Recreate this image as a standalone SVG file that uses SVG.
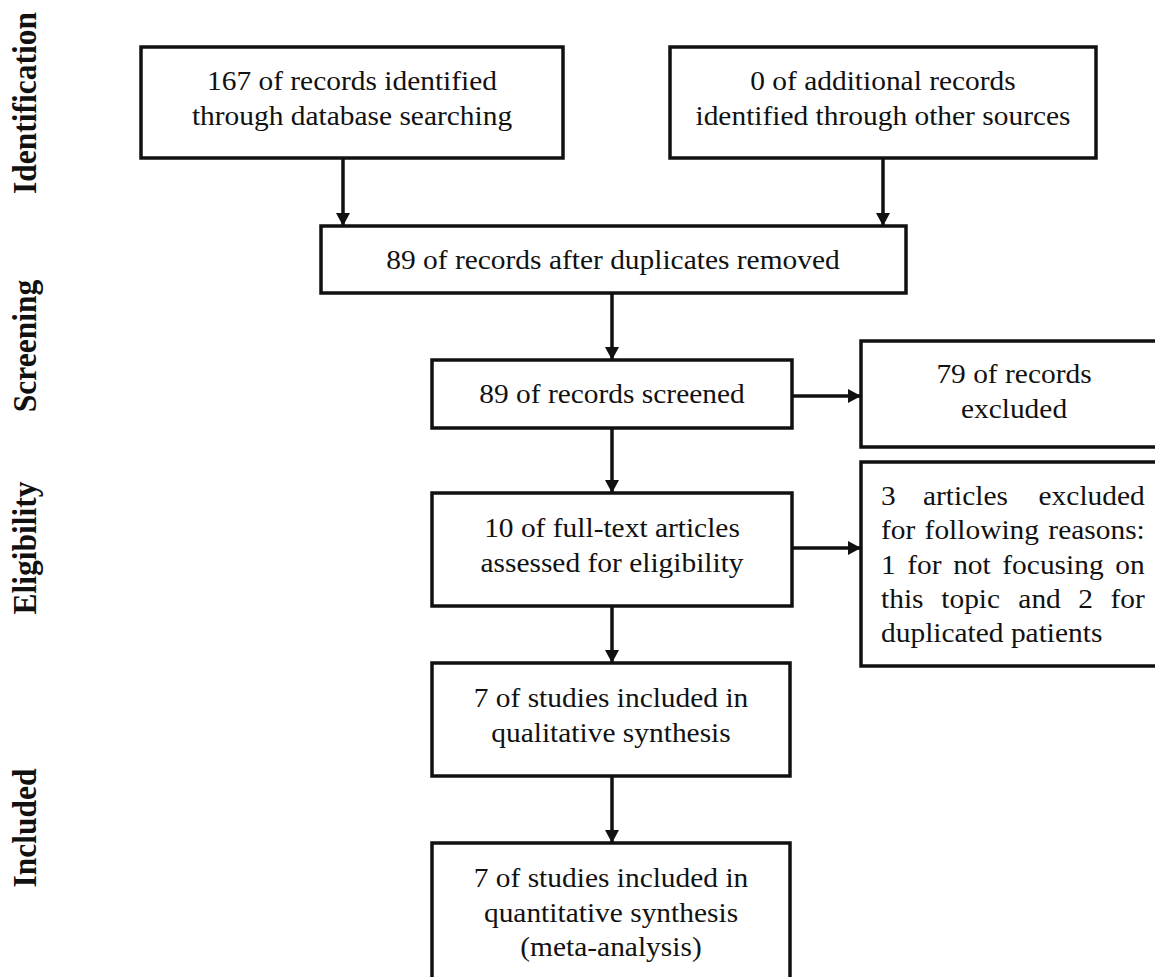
<svg xmlns="http://www.w3.org/2000/svg" width="1155" height="977" viewBox="0 0 1155 977">
<style>
.box{fill:#fff;stroke:#111;stroke-width:3.5}
.t{font-family:"Liberation Serif","Times New Roman",serif;font-size:27px;fill:#111}
.lab{font-family:"Liberation Serif","Times New Roman",serif;font-size:31.5px;font-weight:bold;fill:#111}
.c{stroke:#111;stroke-width:3.5;fill:none;marker-end:url(#ah)}
</style>
<defs>
<marker id="ah" viewBox="0 0 13 14" refX="13" refY="7" markerWidth="13" markerHeight="14" markerUnits="userSpaceOnUse" orient="auto">
<path d="M0,0 L13,7 L0,14 z" fill="#111"/>
</marker>
</defs>
<rect width="1155" height="977" fill="#fff"/>
<g id="labels">
<text class="lab" text-anchor="middle" transform="translate(36,103) scale(1.09,1) rotate(-90)">Identification</text>
<text class="lab" text-anchor="middle" transform="translate(36,346) scale(1.09,1) rotate(-90)">Screening</text>
<text class="lab" text-anchor="middle" transform="translate(36,548) scale(1.09,1) rotate(-90)">Eligibility</text>
<text class="lab" text-anchor="middle" transform="translate(36,828) scale(1.09,1) rotate(-90)">Included</text>
</g>
<g id="connectors">
<line class="c" x1="343" y1="158" x2="343" y2="226"/>
<line class="c" x1="883" y1="158" x2="883" y2="226"/>
<line class="c" x1="612" y1="293" x2="612" y2="360"/>
<line class="c" x1="612" y1="428" x2="612" y2="493"/>
<line class="c" x1="612" y1="606" x2="612" y2="663"/>
<line class="c" x1="612" y1="776" x2="612" y2="843"/>
<line class="c" x1="792" y1="396" x2="861" y2="396"/>
<line class="c" x1="792" y1="548" x2="861" y2="548"/>
</g>
<g id="n-database">
<rect class="box" x="141" y="47" width="422" height="111"/>
<text class="t" text-anchor="middle" transform="translate(352,90) scale(1.09,1)"><tspan x="0">167 of records identified</tspan><tspan x="0" dy="35">through database searching</tspan></text>
</g>
<g id="n-other">
<rect class="box" x="670" y="47" width="426" height="111"/>
<text class="t" text-anchor="middle" transform="translate(883,90) scale(1.09,1)"><tspan x="0">0 of additional records</tspan><tspan x="0" dy="35">identified through other sources</tspan></text>
</g>
<g id="n-dup">
<rect class="box" x="321" y="226" width="585" height="67"/>
<text class="t" text-anchor="middle" transform="translate(613,269) scale(1.09,1)">89 of records after duplicates removed</text>
</g>
<g id="n-screened">
<rect class="box" x="432" y="360" width="360" height="68"/>
<text class="t" text-anchor="middle" transform="translate(612,403) scale(1.09,1)">89 of records screened</text>
</g>
<g id="n-excluded">
<rect class="box" x="861" y="341" width="310" height="106"/>
<text class="t" text-anchor="middle" transform="translate(1014,383) scale(1.09,1)"><tspan x="0">79 of records</tspan><tspan x="0" dy="35">excluded</tspan></text>
</g>
<g id="n-reasons">
<rect class="box" x="861" y="462" width="310" height="204"/>
<text class="t" transform="translate(881,505) scale(1.09,1)"><tspan x="0" y="0">3</tspan><tspan x="38.5" y="0">articles</tspan><tspan x="242" y="0" text-anchor="end">excluded</tspan><tspan x="0" y="34.3">for</tspan><tspan x="40" y="34.3">following</tspan><tspan x="242" y="34.3" text-anchor="end">reasons:</tspan><tspan x="0" y="68.6">1</tspan><tspan x="24.1" y="68.6">for</tspan><tspan x="66.2" y="68.6">not</tspan><tspan x="111.3" y="68.6">focusing</tspan><tspan x="242" y="68.6" text-anchor="end">on</tspan><tspan x="0" y="102.9">this</tspan><tspan x="55.3" y="102.9">topic</tspan><tspan x="126" y="102.9">and</tspan><tspan x="181" y="102.9">2</tspan><tspan x="242" y="102.9" text-anchor="end">for</tspan><tspan x="0" y="137.2">duplicated patients</tspan></text>
</g>
<g id="n-eligibility">
<rect class="box" x="432" y="493" width="360" height="113"/>
<text class="t" text-anchor="middle" transform="translate(612,537) scale(1.09,1)"><tspan x="0">10 of full-text articles</tspan><tspan x="0" dy="35">assessed for eligibility</tspan></text>
</g>
<g id="n-qualitative">
<rect class="box" x="432" y="663" width="358" height="113"/>
<text class="t" text-anchor="middle" transform="translate(611,707) scale(1.09,1)"><tspan x="0">7 of studies included in</tspan><tspan x="0" dy="35">qualitative synthesis</tspan></text>
</g>
<g id="n-quantitative">
<rect class="box" x="432" y="843" width="358" height="145"/>
<text class="t" text-anchor="middle" transform="translate(611,887) scale(1.09,1)"><tspan x="0">7 of studies included in</tspan><tspan x="0" dy="35">quantitative synthesis</tspan><tspan x="0" dy="34">(meta-analysis)</tspan></text>
</g>
</svg>
